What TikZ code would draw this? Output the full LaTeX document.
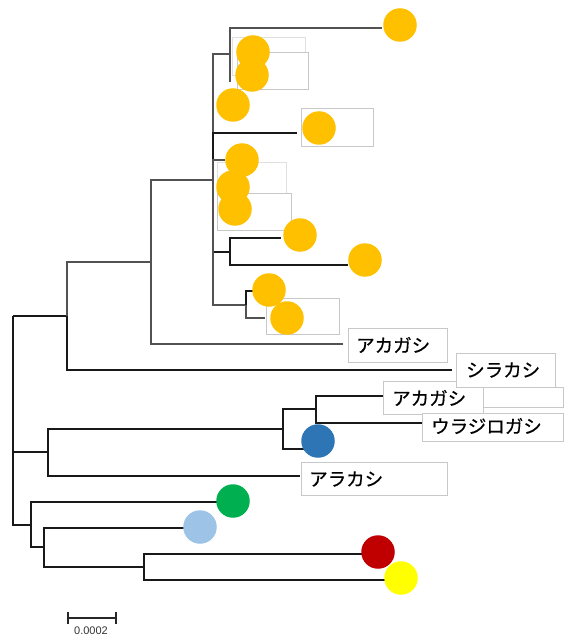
\documentclass[tikz,border=0pt]{standalone}
\usepackage{fontspec}
\usetikzlibrary{calc}
\newfontfamily\jpfont[FakeBold=0.6]{Noto Sans CJK JP}
\newfontfamily\numfont{Liberation Sans}
\definecolor{cOrange}{HTML}{FFC000}
\definecolor{cBlue}{HTML}{2E75B6}
\definecolor{cGreen}{HTML}{00B050}
\definecolor{cLight}{HTML}{9DC3E6}
\definecolor{cRed}{HTML}{C00000}
\definecolor{cYellow}{HTML}{FFFF00}
\definecolor{boxline}{HTML}{C8C8C8}
\tikzset{
  branch/.style={draw=black!90, line width=1.05pt},
  branchg/.style={draw=black!68, line width=1.05pt},
  labelbox/.style={draw=boxline, line width=0.8pt, fill=white},
  leaf/.style={circle, inner sep=0pt, minimum size=33.5pt, draw=none},
  lbl/.style={font=\jpfont\fontsize{18.5}{18.5}\selectfont, anchor=west, inner sep=0pt},
}
\begin{document}
\begin{tikzpicture}[x=1pt, y=-1pt]
\useasboundingbox (0,0) rectangle (563,636);

% internal nodes of the tree (x of the vertical bar, y of the incoming branch)
\coordinate (root) at (13,316);
\coordinate (U1) at (67,316);
\coordinate (U2) at (151,262);
\coordinate (U3) at (213,180);
\coordinate (U4) at (230,54);
\coordinate (U4b) at (230,82);
\coordinate (U5) at (230,252);
\coordinate (U6) at (246,305);
\coordinate (L1) at (48,452);
\coordinate (L2) at (283,429);
\coordinate (L3) at (316,409);
\coordinate (G1) at (31,525);
\coordinate (G2) at (44,547);
\coordinate (G3) at (144,567);

% branch tips
\coordinate (tShira) at (452,370);
\coordinate (tAka1) at (343,344);
\coordinate (tTop) at (382,28);
\coordinate (t133) at (297,133);
\coordinate (t160) at (225,160);
\coordinate (t238) at (281,238);
\coordinate (t265) at (348,265);
\coordinate (t291) at (256,291);
\coordinate (t318) at (265,318);
\coordinate (tAra) at (300,476);
\coordinate (tBlue) at (305,449);
\coordinate (tAka2) at (383,396);
\coordinate (tUra) at (422,423);
\coordinate (tGreen) at (218,502);
\coordinate (tLight) at (185,528);
\coordinate (tRed) at (362,554);
\coordinate (tYel) at (385,580);

% root
\draw[branch] (root) -- (U1);
\draw[branch] (root) |- (L1);
\draw[branch] (root) |- (G1);

% upper clade
\draw[branchg] (U1) |- (U2);
\draw[branch] (U1) |- (tShira);
\draw[branchg] (U2) |- (U3);
\draw[branchg] (U2) |- (tAka1);
\draw[branchg] (U3) |- (U4);
\draw[branch] (U3) |- (t133);
\draw[branchg] (U3) |- (t160);
\draw[branch] (U3) |- (U5);
\draw[branchg] (U3) |- (U6);
\draw[branchg] (U4) |- (tTop);
\draw[branchg] (U4) -- (U4b);
\draw[branch] (U5) |- (t238);
\draw[branch] (U5) |- (t265);
\draw[branch] (U6) |- (t291);
\draw[branchg] (U6) |- (t318);

% lower clade
\draw[branch] (L1) |- (L2);
\draw[branch] (L1) |- (tAra);
\draw[branch] (L2) |- (L3);
\draw[branch] (L2) |- (tBlue);
\draw[branch] (L3) |- (tAka2);
\draw[branch] (L3) |- (tUra);
\draw[branch] (G1) |- (tGreen);
\draw[branch] (G1) |- (G2);
\draw[branch] (G2) |- (tLight);
\draw[branch] (G2) |- (G3);
\draw[branch] (G3) |- (tRed);
\draw[branch] (G3) |- (tYel);

% empty label boxes behind the orange tips
\path[labelbox, draw=black!12] (232,37) rectangle (305,75);
\path[labelbox] (237,52) rectangle (308,89);
\path[labelbox] (301,108) rectangle (373,146);
\path[labelbox, draw=black!12] (217,162) rectangle (286,200);
\path[labelbox] (217,193) rectangle (291,230);
\path[labelbox] (266,298) rectangle (339,334);

% named label boxes
\node[labelbox, anchor=north west, minimum width=99pt, minimum height=34pt, inner sep=0pt] (bAka1) at (348,328) {};
\node[lbl] (xAka1) at (356,345) {アカガシ};
\node[labelbox, anchor=north west, minimum width=100pt, minimum height=33pt, inner sep=0pt] (bAka2) at (383,381) {};
\node[lbl] (xAka2) at (392,398) {アカガシ};
\node[labelbox, anchor=north west, minimum width=99pt, minimum height=34pt, inner sep=0pt] (bShira) at (456,353) {};
\node[lbl] (xShira) at (466,370) {シラカシ};
\node[labelbox, anchor=north west, minimum width=80pt, minimum height=20pt, inner sep=0pt] (bEmpty) at (483,387) {};
\node[labelbox, anchor=north west, minimum width=141pt, minimum height=28pt, inner sep=0pt] (bUra) at (422,413) {};
\node[lbl] (xUra) at (431,426) {ウラジロガシ};
\node[labelbox, anchor=north west, minimum width=146pt, minimum height=33pt, inner sep=0pt] (bAra) at (301,462) {};
\node[lbl] (xAra) at (309,479) {アラカシ};

% coloured tips
\node[leaf, fill=cOrange] (o1) at (400,25) {};
\node[leaf, fill=cOrange] (o2) at (253,52) {};
\node[leaf, fill=cOrange] (o3) at (252,75) {};
\node[leaf, fill=cOrange] (o4) at (233,105) {};
\node[leaf, fill=cOrange] (o5) at (319,128) {};
\node[leaf, fill=cOrange] (o6) at (242,160) {};
\node[leaf, fill=cOrange] (o7) at (233,187) {};
\node[leaf, fill=cOrange] (o8) at (235,209) {};
\node[leaf, fill=cOrange] (o9) at (300,235) {};
\node[leaf, fill=cOrange] (o10) at (365,260) {};
\node[leaf, fill=cOrange] (o11) at (269,290) {};
\node[leaf, fill=cOrange] (o12) at (287,318) {};
\node[leaf, fill=cBlue] (b1) at (318,441) {};
\node[leaf, fill=cGreen] (g1) at (233,501) {};
\node[leaf, fill=cLight] (l1) at (200,527) {};
\node[leaf, fill=cRed] (r1) at (378,552) {};
\node[leaf, fill=cYellow] (y1) at (401,578) {};

% scale bar
\coordinate (sbL) at (68,618);
\coordinate (sbR) at (116,618);
\draw[draw=black!85, line width=1.1pt] (sbL) -- (sbR);
\draw[draw=black!85, line width=1.1pt] ($(sbL)+(0,-6)$) -- ($(sbL)+(0,6)$);
\draw[draw=black!85, line width=1.1pt] ($(sbR)+(0,-6)$) -- ($(sbR)+(0,6)$);
\node[font=\numfont\fontsize{11}{11}\selectfont, text=black!80, inner sep=0pt] (sbT) at (91,631) {0.0002};
\end{tikzpicture}
\end{document}
